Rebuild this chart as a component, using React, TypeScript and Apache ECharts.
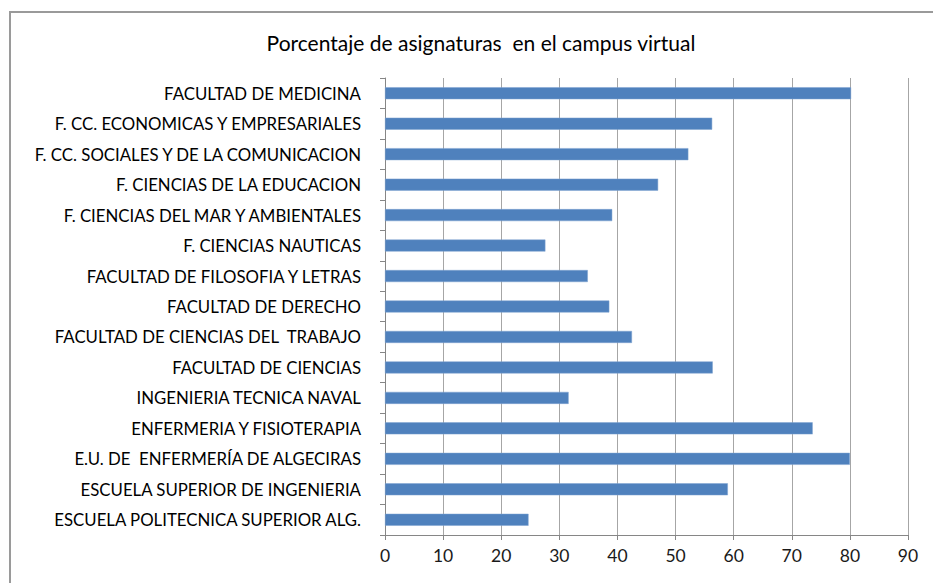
import React, { useEffect, useRef } from "react";
import * as echarts from "echarts";

const categories: string[] = [
  "FACULTAD DE MEDICINA",
  "F. CC. ECONOMICAS Y EMPRESARIALES",
  "F. CC. SOCIALES Y DE LA COMUNICACION",
  "F. CIENCIAS DE LA EDUCACION",
  "F. CIENCIAS DEL MAR Y AMBIENTALES",
  "F. CIENCIAS NAUTICAS",
  "FACULTAD DE FILOSOFIA Y LETRAS",
  "FACULTAD DE DERECHO",
  "FACULTAD DE CIENCIAS DEL  TRABAJO",
  "FACULTAD DE CIENCIAS",
  "INGENIERIA TECNICA NAVAL",
  "ENFERMERIA Y FISIOTERAPIA",
  "E.U. DE  ENFERMERÍA DE ALGECIRAS",
  "ESCUELA SUPERIOR DE INGENIERIA",
  "ESCUELA POLITECNICA SUPERIOR ALG.",
];

const values: number[] = [
  80.2, 56.3, 52.2, 47.0, 39.1, 27.6, 34.9, 38.6, 42.5, 56.4, 31.6, 73.6, 80.0, 59.0, 24.7,
];

const titleText = "Porcentaje de asignaturas  en el campus virtual";

const FONT = "Lato, 'Open Sans', sans-serif";

export default function App() {
  const ref = useRef<HTMLDivElement>(null);
  useEffect(() => {
    if (!ref.current) return;
    const chart = echarts.init(ref.current, undefined, { renderer: "svg" });
    chart.setOption({
      animation: false,
      backgroundColor: "#ffffff",
      title: {
        text: titleText,
        left: 476,
        textAlign: "center",
        top: 27,
        textStyle: { fontFamily: FONT, fontSize: 21, fontWeight: "normal", color: "#000" },
      },
      graphic: [
        {
          type: "rect",
          shape: { x: 10, y: 12, width: 960, height: 620 },
          style: { fill: "none", stroke: "#9a9a9a", lineWidth: 2 },
          silent: true,
        },
      ],
      grid: { left: 385, right: 25, top: 78, bottom: 48, containLabel: false },
      xAxis: {
        type: "value",
        min: 0,
        max: 90,
        interval: 10,
        axisLine: { show: true, lineStyle: { color: "#868686" } },
        axisTick: { show: true, length: 5, lineStyle: { color: "#868686" } },
        splitLine: { show: true, lineStyle: { color: "#a6a6a6", width: 1 } },
        axisLabel: { fontFamily: FONT, fontSize: 17.5, color: "#1a1a1a", margin: 11 },
      },
      yAxis: {
        type: "category",
        data: categories,
        inverse: true,
        axisLine: { show: true, lineStyle: { color: "#868686" } },
        axisTick: { show: true, length: 5, lineStyle: { color: "#868686" } },
        splitLine: { show: false },
        axisLabel: { fontFamily: FONT, fontSize: 16.8, color: "#000", margin: 24 },
      },
      series: [
        {
          type: "bar",
          data: values,
          barWidth: 12,
          itemStyle: { color: "#4f81bd", borderColor: "#7ea3d0", borderWidth: 0.5 },
        },
      ],
    });
    return () => chart.dispose();
  }, []);
  return (
    <div
      ref={ref}
      style={{ position: "fixed", left: 0, top: 0, width: 933, height: 583 }}
    />
  );
}
